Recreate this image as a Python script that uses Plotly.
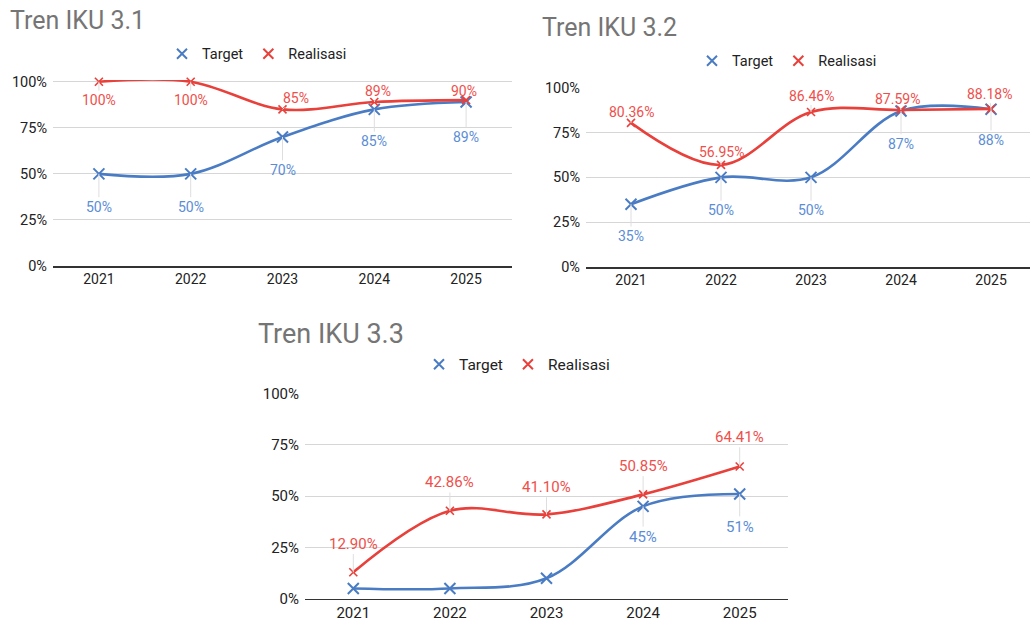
import plotly.graph_objects as go

W, H = 1030, 626
PCT = "&#37;"  # percent sign as HTML entity

years = ["2021", "2022", "2023", "2024", "2025"]

iku31_target = [50, 50, 70, 85, 89]
iku31_real = [100, 100, 85, 89, 90]
iku31_target_labels = ["50", "50", "70", "85", "89"]
iku31_real_labels = ["100", "100", "85", "89", "90"]

iku32_target = [35, 50, 50, 87, 88]
iku32_real = [80.36, 56.95, 86.46, 87.59, 88.18]
iku32_target_labels = ["35", "50", "50", "87", "88"]
iku32_real_labels = ["80.36", "56.95", "86.46", "87.59", "88.18"]

iku33_target = [5, 5, 10, 45, 51]
iku33_real = [12.90, 42.86, 41.10, 50.85, 64.41]
iku33_target_labels = ["", "", "", "45", "51"]
iku33_real_labels = ["12.90", "42.86", "41.10", "50.85", "64.41"]

y_ticks = [0, 25, 50, 75, 100]

titles = ["Tren IKU 3.1", "Tren IKU 3.2", "Tren IKU 3.3"]
series_names = ["Target", "Realisasi"]

BLUE = "#4a7cc4"
RED = "#e8403b"
BLUE_LBL = "#5b8dd6"
RED_LBL = "#ef4f4b"
FONT = "Roboto, Arial, sans-serif"

# vertical calibration of the capture (observed: shown = 0.975 * y + 7)
VS, VO = 0.975, 7.0


def Y(y):
    return (y - VO) / VS


# panel geometry in pixels: x (left, right), y of 100% and 0% gridlines
panels = [
    dict(px=(53, 512), py=(80, 265), xr=[-0.5, 4.5], ymax=101.0,
         title_xy=(8, 18.5), legend_xy=(162, 52),
         f_title=25, f_xtick=14, f_ytick=14.5, f_lbl=14, f_leg=14.5),
    dict(px=(586, 1030), py=(86, 266), xr=[-0.5, 4.433], ymax=100.0,
         title_xy=(540, 25.5), legend_xy=(692, 59),
         f_title=25, f_xtick=14, f_ytick=14.5, f_lbl=14, f_leg=14.5),
    dict(px=(305, 788), py=(393, 599), xr=[-0.5, 4.5], ymax=100.0,
         title_xy=(256, 333.5), legend_xy=(419, 364),
         f_title=27, f_xtick=15, f_ytick=15, f_lbl=15, f_leg=15.5),
]

data_sets = [
    (iku31_target, iku31_real, iku31_target_labels, iku31_real_labels),
    (iku32_target, iku32_real, iku32_target_labels, iku32_real_labels),
    (iku33_target, iku33_real, iku33_target_labels, iku33_real_labels),
]

# label offsets in pixels (ax, ay) for target / realisasi labels
target_offsets = [
    [(0, 32), (0, 32), (0, 32), (0, 31), (0, 34)],
    [(0, 31), (0, 32), (0, 32), (0, 32), (0, 30)],
    [(0, 30), (0, 30), (0, 30), (0, 30), (0, 32)],
]
real_offsets = [
    [(0, 18), (0, 18), (13, -11), (4, -11), (-2, -9)],
    [(0, -11), (0, -13), (0, -16), (-4, -11), (-2, -15)],
    [(0, -28), (0, -28), (0, -27), (0, -28), (0, -29)],
]

fig = go.Figure()
annotations = []
layout = {}

for i, (p, d) in enumerate(zip(panels, data_sets)):
    n = "" if i == 0 else str(i + 1)
    xa, ya = "x" + n, "y" + n
    leg = "legend" + n
    tgt, real, tl, rl = d
    fig.add_trace(go.Scatter(
        x=years, y=tgt, mode="lines+markers", name=series_names[0],
        line=dict(color=BLUE, width=2.6, shape="spline", smoothing=1.0),
        marker=dict(symbol="x-thin", size=11, color=BLUE,
                    line=dict(width=2, color=BLUE)),
        xaxis=xa, yaxis=ya, showlegend=False, cliponaxis=False,
        hoverinfo="skip"))
    fig.add_trace(go.Scatter(
        x=years, y=real, mode="lines+markers", name=series_names[1],
        line=dict(color=RED, width=2.6, shape="spline", smoothing=1.0),
        marker=dict(symbol="x-thin", size=8, color=RED,
                    line=dict(width=1.6, color=RED)),
        xaxis=xa, yaxis=ya, showlegend=False, cliponaxis=False,
        hoverinfo="skip"))
    for name, col in ((series_names[0], BLUE), (series_names[1], RED)):
        fig.add_trace(go.Scatter(
            x=[None], y=[None], mode="markers", name=name,
            marker=dict(symbol="x-thin", size=10, color=col,
                        line=dict(width=2, color=col)),
            xaxis=xa, yaxis=ya, legend=leg, showlegend=True))

    x0, x1 = p["px"]
    t100, b0 = Y(p["py"][0]), Y(p["py"][1])
    ymax = p["ymax"]
    top_px = b0 - (b0 - t100) * ymax / 100.0
    layout["xaxis" + n] = dict(
        domain=[x0 / W, x1 / W], anchor=ya, type="category", range=p["xr"],
        showline=True, linecolor="#333333", linewidth=1.5, showgrid=False,
        ticks="", tickfont=dict(family=FONT, size=p["f_xtick"], color="#222222"),
        fixedrange=True)
    layout["yaxis" + n] = dict(
        domain=[1 - b0 / H, 1 - top_px / H], anchor=xa, range=[0, ymax],
        tickmode="array", tickvals=y_ticks,
        ticktext=[f"{v}{PCT}" for v in y_ticks],
        showgrid=True, gridcolor="#d6d6d6", gridwidth=1, zeroline=False,
        showline=False, ticks="", ticklabelstandoff=5,
        tickfont=dict(family=FONT, size=p["f_ytick"], color="#222222"),
        fixedrange=True)
    lx, ly = p["legend_xy"]
    layout[leg] = dict(
        orientation="h", x=lx / W, y=1 - Y(ly) / H, xanchor="left",
        yanchor="middle", bgcolor="rgba(0,0,0,0)",
        font=dict(family=FONT, size=p["f_leg"], color="#222222"),
        itemclick=False, itemdoubleclick=False)
    tx, ty = p["title_xy"]
    annotations.append(dict(
        text=titles[i], xref="paper", yref="paper", x=tx / W, y=1 - Y(ty) / H,
        xanchor="left", yanchor="middle", showarrow=False,
        font=dict(family=FONT, size=p["f_title"], color="#757575")))
    for k in range(len(years)):
        if tl[k]:
            ax, ay = target_offsets[i][k]
            annotations.append(dict(
                x=k, y=tgt[k], xref=xa, yref=ya, text=tl[k] + PCT,
                showarrow=True, arrowhead=0, arrowwidth=1,
                arrowcolor="#dedede", ax=ax, ay=ay / VS, standoff=0,
                font=dict(family=FONT, size=p["f_lbl"], color=BLUE_LBL)))
        if rl[k]:
            ax, ay = real_offsets[i][k]
            annotations.append(dict(
                x=k, y=real[k], xref=xa, yref=ya, text=rl[k] + PCT,
                showarrow=True, arrowhead=0, arrowwidth=1,
                arrowcolor="#dedede", ax=ax, ay=ay / VS, standoff=0,
                font=dict(family=FONT, size=p["f_lbl"], color=RED_LBL)))

fig.update_layout(
    width=W, height=H, margin=dict(l=0, r=0, t=0, b=0),
    paper_bgcolor="white", plot_bgcolor="white",
    annotations=annotations, hovermode=False, **layout)

post = (
    "var gd=document.getElementById('{plot_id}');"
    "document.documentElement.style.margin='0';"
    "document.documentElement.style.padding='0';"
    "document.body.style.margin='0';document.body.style.padding='0';"
    "document.body.style.overflow='hidden';"
    "gd.style.position='absolute';gd.style.left='0px';gd.style.top='0px';"
)

fig.write_html("out.html", config={"displayModeBar": False, "staticPlot": True},
               post_script=post)
